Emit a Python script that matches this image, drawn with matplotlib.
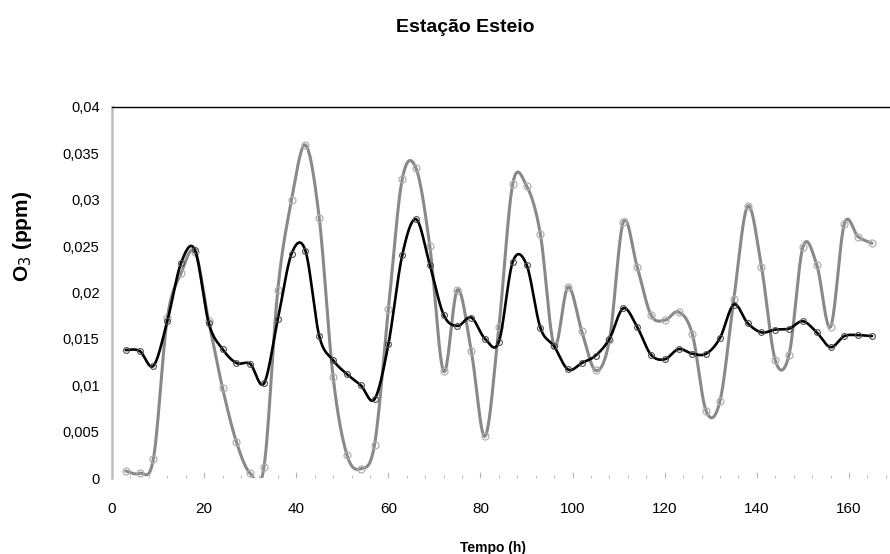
import numpy as np
import matplotlib
matplotlib.use("Agg")
import matplotlib.pyplot as plt
from matplotlib.ticker import MultipleLocator, FixedLocator, FixedFormatter

plt.rcParams['font.family'] = ['Liberation Sans', 'DejaVu Sans']

# Hourly sampling every 3 h
tempo = list(range(3, 166, 3))

# Gray series (O3, ppm)
serie_cinza = [
    0.00075, 0.0005, 0.0021, 0.0172, 0.0221, 0.0244, 0.0169, 0.0097, 0.0039,
    0.0005, 0.0012, 0.0203, 0.0300, 0.0359, 0.0280, 0.0109, 0.0025, 0.0010,
    0.0036, 0.0182, 0.0322, 0.0334, 0.0250, 0.0115, 0.0203, 0.0137, 0.0045,
    0.0163, 0.0317, 0.0315, 0.0263, 0.0143, 0.0206, 0.0158, 0.0116, 0.0149,
    0.0276, 0.0228, 0.0176, 0.0170, 0.0179, 0.0155, 0.0072, 0.0083, 0.0193,
    0.0293, 0.0228, 0.0127, 0.0133, 0.0249, 0.0230, 0.0163, 0.0274, 0.0260,
    0.0253,
]

# Black series (O3, ppm)
serie_preta = [
    0.0138, 0.0137, 0.0121, 0.0169, 0.0232, 0.0246, 0.0167, 0.0139, 0.0124,
    0.0123, 0.0102, 0.0171, 0.0242, 0.0245, 0.0153, 0.0127, 0.0112, 0.0100,
    0.0085, 0.0144, 0.0240, 0.0279, 0.0230, 0.0176, 0.0164, 0.0173, 0.0150,
    0.0147, 0.0233, 0.0230, 0.0162, 0.0142, 0.0117, 0.0124, 0.0132, 0.0150,
    0.0183, 0.0163, 0.0133, 0.0128, 0.0139, 0.0134, 0.0134, 0.0151, 0.0187,
    0.0167, 0.0157, 0.0160, 0.0161, 0.0169, 0.0157, 0.0141, 0.0153, 0.0154,
    0.0153,
]

y_ticks = [0, 0.005, 0.01, 0.015, 0.02, 0.025, 0.03, 0.035, 0.04]
y_tick_labels = ['0', '0,005', '0,01', '0,015', '0,02', '0,025', '0,03', '0,035', '0,04']
x_ticks = [0, 20, 40, 60, 80, 100, 120, 140, 160]


def smooth(x, y, n=24):
    """Catmull-Rom style Bezier smoothing through every point."""
    x = np.asarray(x, float)
    y = np.asarray(y, float)
    px = np.concatenate([[x[0]], x, [x[-1]]])
    py = np.concatenate([[y[0]], y, [y[-1]]])
    t = np.linspace(0, 1, n, endpoint=False)[:, None]
    xs, ys = [], []
    for i in range(1, len(px) - 2):
        p0 = np.array([px[i - 1], py[i - 1]])
        p1 = np.array([px[i], py[i]])
        p2 = np.array([px[i + 1], py[i + 1]])
        p3 = np.array([px[i + 2], py[i + 2]])
        b1 = p1 + (p2 - p0) / 6.0
        b2 = p2 - (p3 - p1) / 6.0
        pts = ((1 - t) ** 3) * p1 + 3 * ((1 - t) ** 2) * t * b1 \
            + 3 * (1 - t) * t ** 2 * b2 + t ** 3 * p2
        xs.append(pts[:, 0])
        ys.append(pts[:, 1])
    xs.append([x[-1]])
    ys.append([y[-1]])
    return np.concatenate(xs), np.concatenate(ys)


W, H = 890, 554
fig = plt.figure(figsize=(W / 100, H / 100), dpi=100)
left, right, top, bottom = 112, 890, 107, 478
ax = fig.add_axes([left / W, 1 - bottom / H, (right - left) / W, (bottom - top) / H])

gx, gy = smooth(tempo, serie_cinza)
bx, by = smooth(tempo, serie_preta)

ax.plot(gx, gy, color='#898989', lw=2.2, zorder=2, solid_capstyle='round')
ax.plot(tempo, serie_cinza, ls='none', marker='o', ms=5.0, mfc='none',
        mec='#b0b0b0', mew=0.9, zorder=3)
ax.plot(bx, by, color='#000000', lw=1.9, zorder=4, solid_capstyle='round')
ax.plot(tempo, serie_preta, ls='none', marker='o', ms=4.2, mfc='none',
        mec='#505050', mew=0.8, zorder=5)

ax.set_xlim(0, (right - left) / 4.606)
ax.set_ylim(0, 0.04)

ax.xaxis.set_major_locator(FixedLocator(x_ticks))
ax.xaxis.set_minor_locator(MultipleLocator(4))
ax.yaxis.set_major_locator(FixedLocator(y_ticks))
ax.yaxis.set_major_formatter(FixedFormatter(y_tick_labels))

ax.spines['right'].set_visible(False)
ax.spines['bottom'].set_visible(False)
ax.spines['top'].set_color('black')
ax.spines['top'].set_linewidth(1.0)
ax.spines['left'].set_color('#bdbdbd')
ax.spines['left'].set_linewidth(1.8)

ax.tick_params(axis='x', which='major', direction='in', length=4.5, width=0.8,
               color='#b5b5b5', pad=17, labelsize=11)
ax.tick_params(axis='x', which='minor', direction='in', length=2.5, width=0.8,
               color='#c0c0c0')
ax.tick_params(axis='y', which='major', length=0, pad=9, labelsize=10.5)

fig.text(465 / W, 1 - 27 / H, 'Estação Esteio', ha='center', va='center',
         fontsize=14, fontweight='bold')
fig.text(493 / W, 1 - 548 / H, 'Tempo (h)', ha='center', va='center',
         fontsize=10, fontweight='bold')
fig.text(22 / W, 1 - 236 / H, r'O$_3$ (ppm)', ha='center', va='center',
         rotation=90, fontsize=15, fontweight='bold')

fig.savefig('out.png', dpi=100)
